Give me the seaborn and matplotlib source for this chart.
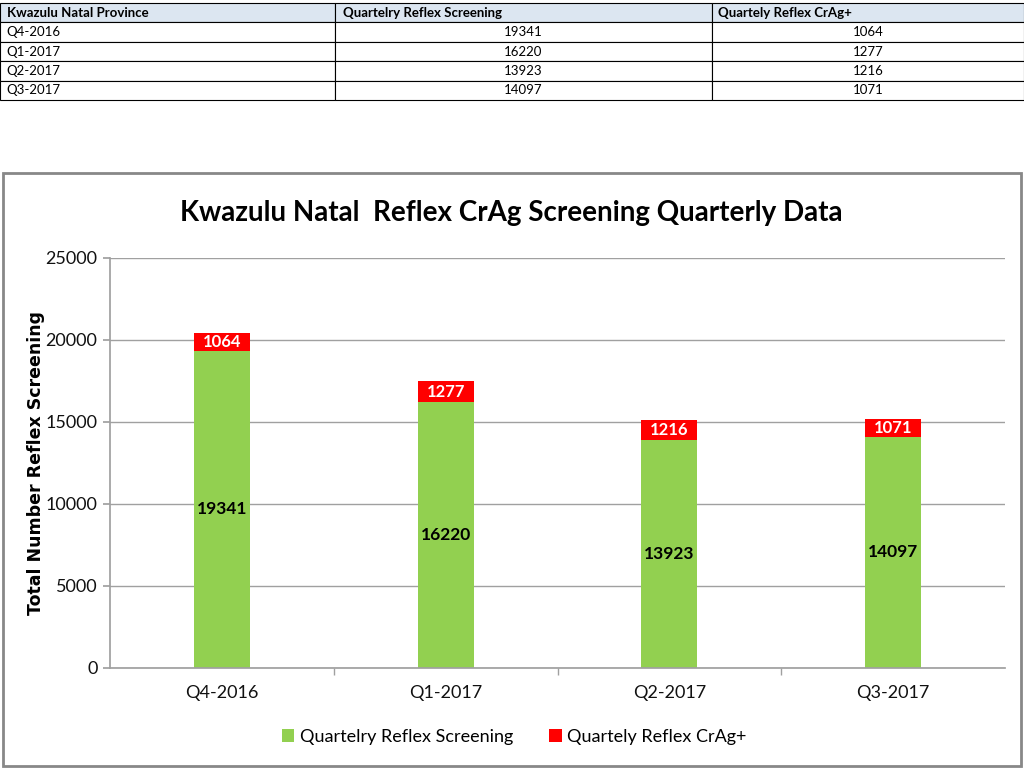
import pandas as pd
import matplotlib.pyplot as plt
import seaborn as sns
from matplotlib.patches import Rectangle

quarters = ["Q4-2016", "Q1-2017", "Q2-2017", "Q3-2017"]
screening = [19341, 16220, 13923, 14097]
crag_pos = [1064, 1277, 1216, 1071]

df = pd.DataFrame({"quarter": quarters, "screening": screening, "crag": crag_pos})
df["total"] = df["screening"] + df["crag"]

sns.set_theme(style="white")
plt.rcParams["font.family"] = ["Lato", "DejaVu Sans"]
plt.rcParams["text.color"] = "black"

fig = plt.figure(figsize=(10.24, 7.68), dpi=100)
W, H = 1024, 768

# table at the top
tax = fig.add_axes([0, 1 - 100 / H, 1, 97 / H])
tax.axis("off")
cells = [[q, str(s), str(c)] for q, s, c in zip(quarters, screening, crag_pos)]
tbl = tax.table(cellText=cells,
                colLabels=["Kwazulu Natal Province", "Quartelry Reflex Screening", "Quartely Reflex CrAg+"],
                colWidths=[335 / W, 377 / W, 312 / W], bbox=[0, 0, 1, 1])
tbl.auto_set_font_size(False)
for (r, c), cell in tbl.get_celld().items():
    cell.set_edgecolor("black")
    cell.set_linewidth(0.8)
    cell.get_text().set_fontsize(9.5)
    if r == 0:
        cell.set_facecolor("#DCE6F1")
        cell.get_text().set_fontweight("bold")
    if r == 0 or c == 0:
        cell.get_text().set_ha("left")
        cell.PAD = 0.02
    else:
        cell.get_text().set_ha("center")

# chart border
fig.patches.append(Rectangle((3 / W, 2 / H), 1018 / W, 593 / H, transform=fig.transFigure,
                             fill=False, edgecolor="#888888", linewidth=2))

ax = fig.add_axes([110 / W, 100 / H, 895 / W, 410 / H])
sns.barplot(data=df, x="quarter", y="total", color="#FF0000", saturation=1, width=0.25,
            linewidth=0, ax=ax, label="Quartely Reflex CrAg+")
sns.barplot(data=df, x="quarter", y="screening", color="#92D050", saturation=1, width=0.25,
            linewidth=0, ax=ax, label="Quartelry Reflex Screening")

for i, row in df.iterrows():
    ax.text(i, row["screening"] / 2, str(row["screening"]), ha="center", va="center",
            fontsize=12.5, fontweight="bold", color="black")
    ax.text(i, row["screening"] + row["crag"] / 2, str(row["crag"]), ha="center", va="center",
            fontsize=12, fontweight="bold", color="white")

ax.set_xlim(-0.5, 3.5)
ax.set_ylim(0, 25000)
ax.set_yticks(range(0, 25001, 5000))
ax.yaxis.grid(True, color="#A0A0A0", linewidth=1)
ax.set_axisbelow(True)
for s in ["top", "right"]:
    ax.spines[s].set_visible(False)
ax.spines["left"].set_color("#A0A0A0")
ax.spines["bottom"].set_color("#A0A0A0")
ax.tick_params(axis="both", labelsize=13, labelcolor="#111111")
ax.tick_params(axis="y", length=5, color="#A0A0A0", left=True, pad=4)
ax.tick_params(axis="x", length=0, pad=12)
ax.set_xticks([0.5, 1.5, 2.5], minor=True)
ax.tick_params(axis="x", which="minor", length=5, color="#A0A0A0", bottom=True)
ax.set_xlabel("")
ax.set_ylabel("Total Number Reflex Screening", fontsize=12.5, fontweight="bold",
              family=["DejaVu Sans"], labelpad=0, color="black")

fig.text(511 / W, 1 - 213 / H, "Kwazulu Natal  Reflex CrAg Screening Quarterly Data",
         ha="center", va="center", fontsize=20, fontweight="bold", color="black")

handles, labels = ax.get_legend_handles_labels()
order = [labels.index("Quartelry Reflex Screening"), labels.index("Quartely Reflex CrAg+")]
ax.legend([handles[i] for i in order], [labels[i] for i in order], loc="center",
          bbox_to_anchor=(514 / W, 1 - 737 / H), bbox_transform=fig.transFigure, ncol=2,
          frameon=False, fontsize=13, handlelength=0.7, handleheight=0.7,
          handletextpad=0.3, columnspacing=2.0)

fig.savefig("out.png", dpi=100)
